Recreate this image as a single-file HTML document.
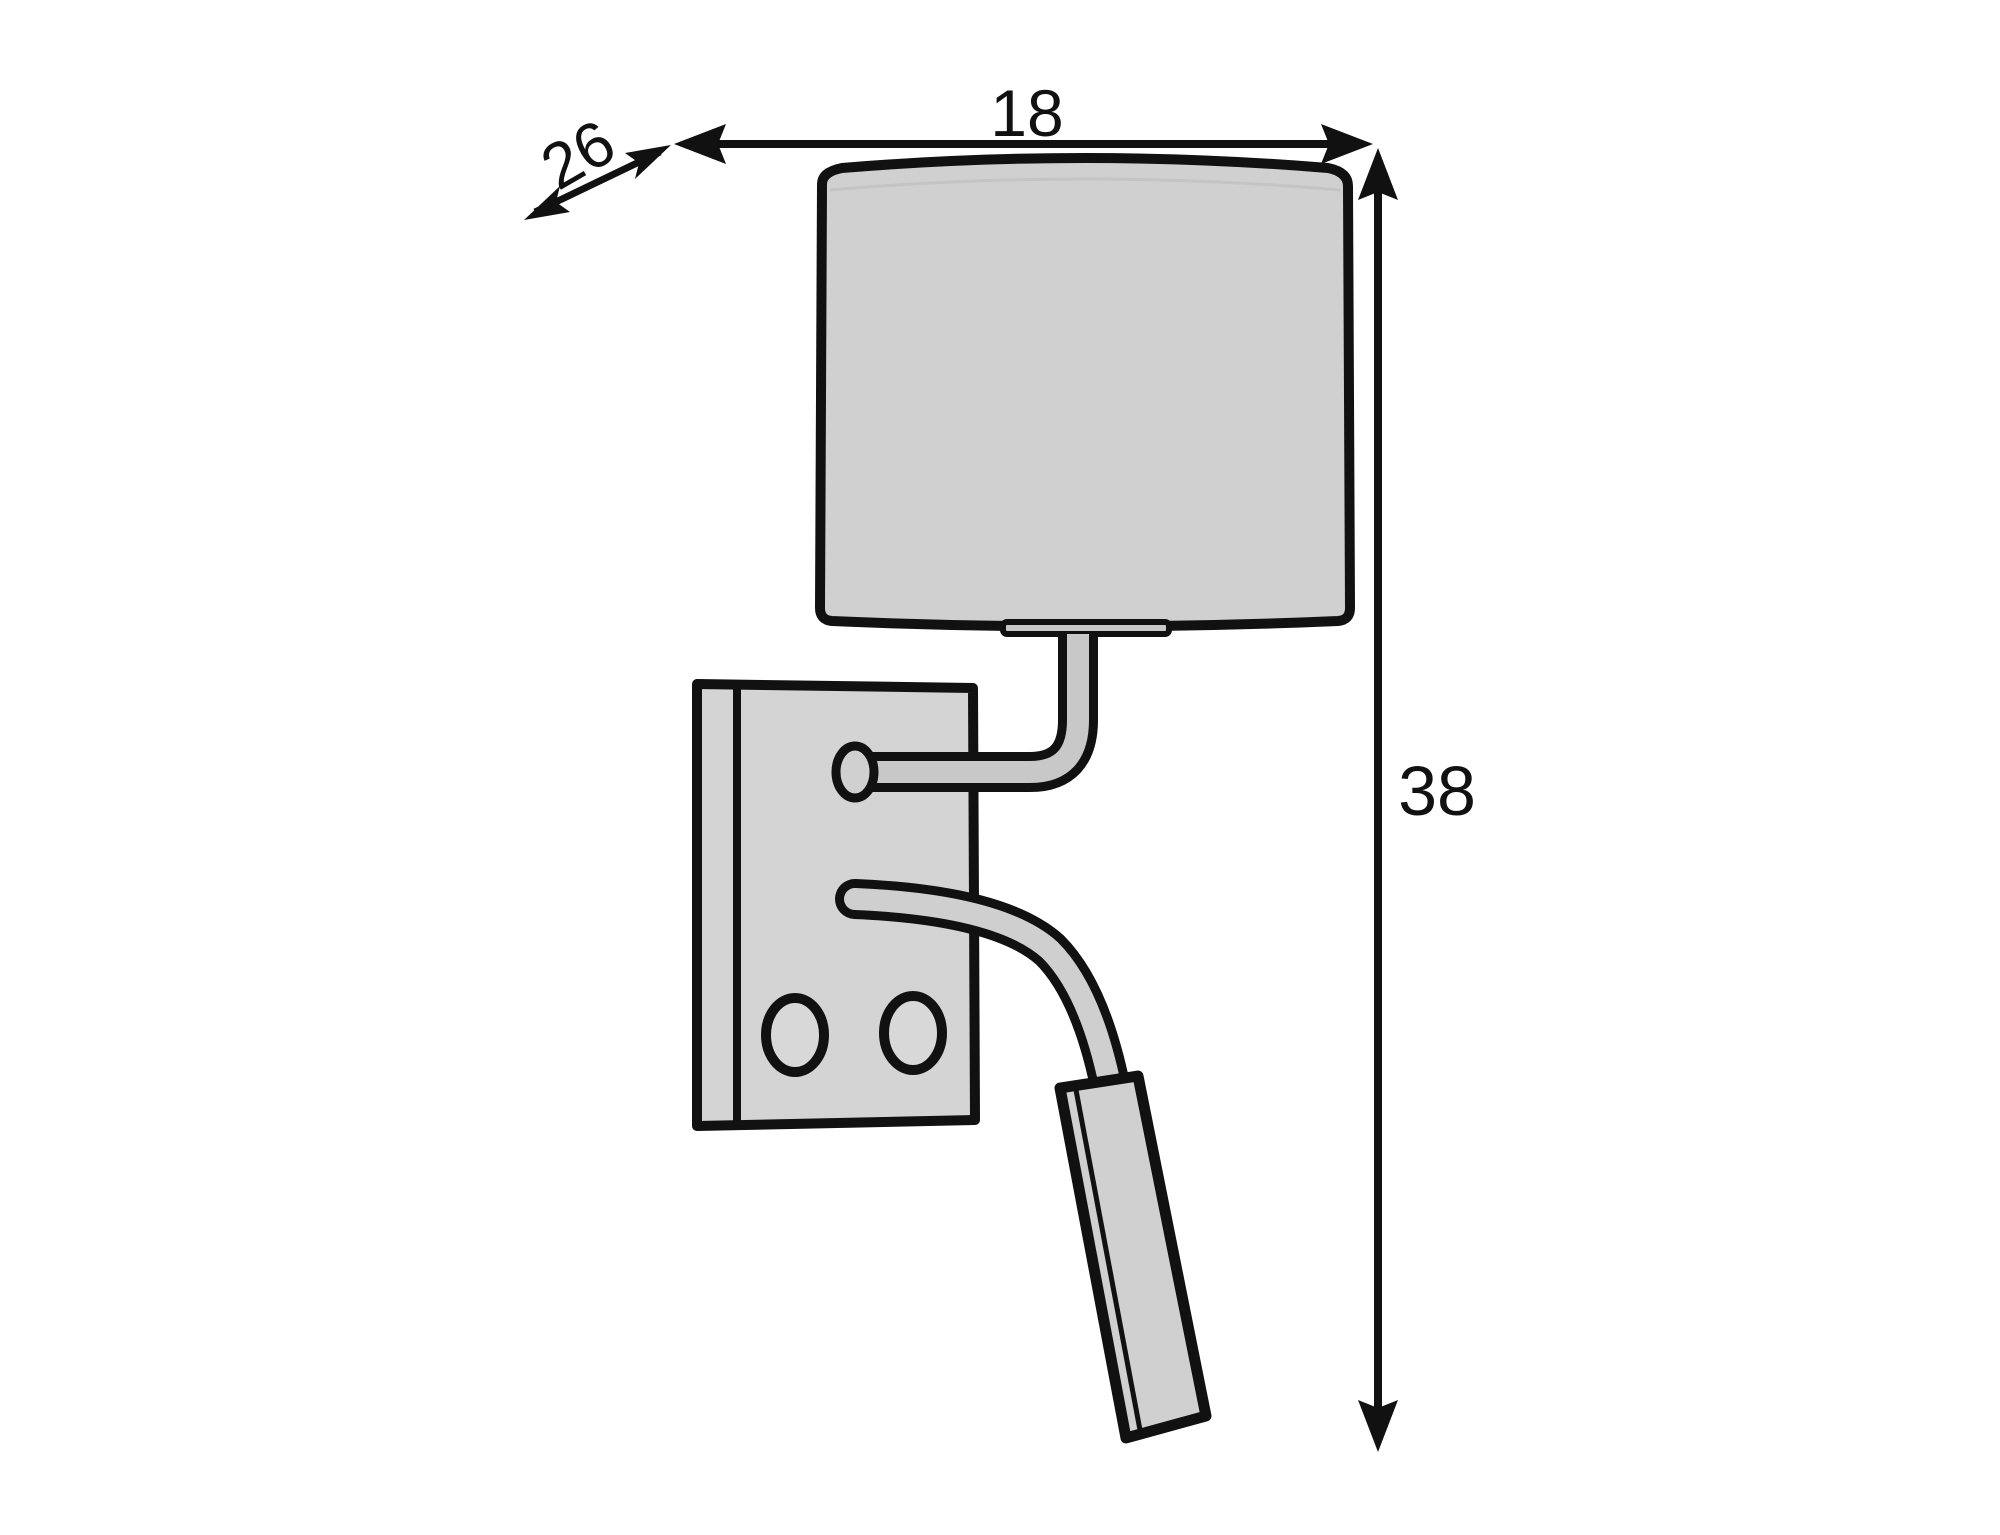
<!DOCTYPE html>
<html><head><style>html,body{margin:0;padding:0;background:#fff}svg{display:block}</style></head>
<body>
<svg width="2000" height="1535" viewBox="0 0 2000 1535" xmlns="http://www.w3.org/2000/svg">
<g fill="#111" stroke="none">
<rect x="690" y="140" width="670" height="8"/>
<polygon points="674,144 726,124 718,144 726,164"/>
<polygon points="1373,144 1321,124 1329,144 1321,164"/>
<rect x="1374" y="160" width="8" height="1280"/>
<polygon points="1378,148 1358,200 1378,192 1398,200"/>
<polygon points="1378,1452 1358,1400 1378,1408 1398,1400"/>
<line x1="535" y1="212" x2="660" y2="152" stroke="#111" stroke-width="7"/>
<polygon points="524,220 560,186 556,202 570,212"/>
<polygon points="671,145 635,179 639,163 625,153"/>
</g>
<text x="1027" y="136" font-family="Liberation Sans, sans-serif" font-size="66" text-anchor="middle" fill="#111">18</text>
<text x="1437" y="815" font-family="Liberation Sans, sans-serif" font-size="70" text-anchor="middle" fill="#111">38</text>
<text x="580" y="176" font-family="Liberation Sans, sans-serif" font-size="64" text-anchor="middle" fill="#111" transform="rotate(-30 580 158)">26</text>

<path d="M822,184 Q822,172 842,168 Q1085,148 1328,168 Q1348,172 1348,186 L1350,608 Q1350,620 1338,621 Q1085,632 832,621 Q820,620 820,608 Z" fill="#d0d0d0" stroke="#111" stroke-width="10" stroke-linejoin="round"/>
<path d="M830,190 Q1085,168 1340,190" fill="none" stroke="#c4c4c4" stroke-width="3"/>
<rect x="1003" y="622" width="166" height="12" rx="4" fill="#c8c8c8" stroke="#111" stroke-width="6"/>

<path d="M697,684 L973,688 L975,1120 L697,1126 Z" fill="#d4d4d4" stroke="#111" stroke-width="10" stroke-linejoin="round"/>
<line x1="737" y1="686" x2="737" y2="1125" stroke="#111" stroke-width="8"/>

<path d="M856,772 L1030,772 Q1078,772 1078,720 L1078,634" fill="none" stroke="#111" stroke-width="40" stroke-linejoin="round"/>
<path d="M856,772 L1030,772 Q1078,772 1078,720 L1078,634" fill="none" stroke="#c8c8c8" stroke-width="22" stroke-linejoin="round"/>
<ellipse cx="855" cy="772" rx="19" ry="26" fill="#d0d0d0" stroke="#111" stroke-width="9"/>

<path d="M855,899 Q1000,905 1050,950 Q1090,990 1110,1085" fill="none" stroke="#111" stroke-width="40" stroke-linecap="round"/>
<path d="M855,899 Q1000,905 1050,950 Q1090,990 1110,1085" fill="none" stroke="#cfcfcf" stroke-width="22" stroke-linecap="round"/>
<path d="M1060,1088 L1138,1076 L1206,1416 L1126,1438 Z" fill="#d0d0d0" stroke="#111" stroke-width="11" stroke-linejoin="round"/>
<line x1="1076" y1="1090" x2="1140" y2="1430" stroke="#111" stroke-width="5"/>

<ellipse cx="795" cy="1035" rx="29" ry="37" fill="#d8d8d8" stroke="#111" stroke-width="10"/>
<ellipse cx="913" cy="1033" rx="29" ry="37" fill="#d8d8d8" stroke="#111" stroke-width="10"/>
</svg>
</body></html>
